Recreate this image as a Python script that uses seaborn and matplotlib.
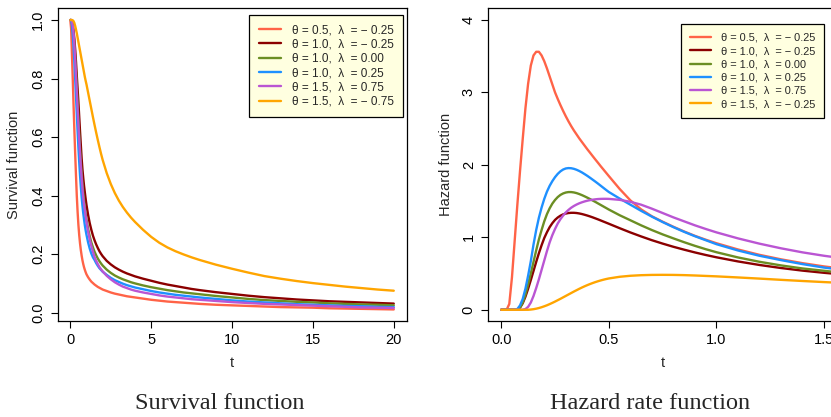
import matplotlib
matplotlib.use("Agg")
import matplotlib.pyplot as plt
from matplotlib.lines import Line2D
import pandas as pd
import seaborn as sns

# ---- survival function S(t) ----
t_surv = [0, 0.05, 0.1, 0.15, 0.2, 0.25, 0.3, 0.35, 0.4, 0.45, 0.5, 0.55, 0.6, 0.65, 0.7, 0.75,
          0.8, 0.85, 0.9, 0.95, 1.0, 1.1, 1.2, 1.3, 1.4, 1.5, 1.6, 1.7, 1.8, 1.9, 2.0, 2.25,
          2.5, 2.75, 3.0, 3.25, 3.5, 3.75, 4.0, 4.5, 5.0, 5.5, 6.0, 6.5, 7.0, 7.5, 8.0, 9,
          10, 11, 12, 13, 14, 15, 16, 17, 18, 19, 20]
surv_a = [1.0, 0.97, 0.885, 0.80, 0.71, 0.625, 0.545, 0.47, 0.40, 0.345, 0.30, 0.265, 0.237,
          0.214, 0.195, 0.179, 0.166, 0.155, 0.146, 0.138, 0.131, 0.121, 0.113, 0.106, 0.101,
          0.096, 0.092, 0.088, 0.085, 0.082, 0.079, 0.074, 0.069, 0.065, 0.062, 0.059, 0.056,
          0.054, 0.052, 0.048, 0.044, 0.041, 0.038, 0.036, 0.034, 0.032, 0.030, 0.027, 0.025,
          0.023, 0.021, 0.019, 0.018, 0.017, 0.015, 0.014, 0.013, 0.012, 0.011]
surv_b = [1.0, 1.0, 0.997, 0.985, 0.963, 0.935, 0.90, 0.858, 0.81, 0.765, 0.72, 0.67, 0.62,
          0.573, 0.527, 0.49, 0.46, 0.433, 0.41, 0.388, 0.368, 0.334, 0.306, 0.283, 0.263,
          0.247, 0.233, 0.221, 0.21, 0.201, 0.193, 0.177, 0.165, 0.155, 0.147, 0.140, 0.134,
          0.129, 0.124, 0.116, 0.109, 0.102, 0.096, 0.091, 0.086, 0.081, 0.077, 0.070, 0.064,
          0.058, 0.053, 0.049, 0.045, 0.042, 0.039, 0.037, 0.035, 0.033, 0.031]
surv_c = [1.0, 1.0, 0.993, 0.975, 0.948, 0.912, 0.868, 0.82, 0.77, 0.715, 0.66, 0.61, 0.56,
          0.513, 0.472, 0.438, 0.408, 0.382, 0.358, 0.337, 0.318, 0.287, 0.261, 0.240, 0.223,
          0.208, 0.196, 0.185, 0.176, 0.168, 0.161, 0.147, 0.136, 0.127, 0.120, 0.114, 0.109,
          0.104, 0.100, 0.093, 0.087, 0.082, 0.077, 0.073, 0.069, 0.066, 0.063, 0.057, 0.052,
          0.047, 0.043, 0.040, 0.037, 0.035, 0.032, 0.030, 0.028, 0.027, 0.025]
surv_d = [1.0, 0.997, 0.982, 0.952, 0.91, 0.858, 0.80, 0.74, 0.68, 0.62, 0.565, 0.515, 0.47,
          0.43, 0.395, 0.365, 0.34, 0.318, 0.298, 0.281, 0.266, 0.24, 0.219, 0.202, 0.189,
          0.18, 0.169, 0.16, 0.152, 0.146, 0.140, 0.129, 0.119, 0.111, 0.105, 0.099, 0.094,
          0.090, 0.086, 0.080, 0.074, 0.069, 0.065, 0.061, 0.058, 0.055, 0.052, 0.047, 0.042,
          0.038, 0.035, 0.032, 0.029, 0.027, 0.025, 0.023, 0.022, 0.020, 0.019]
surv_e = [1.0, 1.0, 0.996, 0.982, 0.955, 0.915, 0.865, 0.81, 0.753, 0.697, 0.643, 0.592, 0.545,
          0.501, 0.461, 0.425, 0.393, 0.37, 0.35, 0.33, 0.31, 0.277, 0.25, 0.228, 0.208,
          0.19, 0.177, 0.166, 0.156, 0.148, 0.141, 0.126, 0.114, 0.104, 0.096, 0.089, 0.084,
          0.079, 0.075, 0.069, 0.064, 0.059, 0.055, 0.052, 0.049, 0.046, 0.044, 0.040, 0.036,
          0.033, 0.030, 0.028, 0.026, 0.024, 0.022, 0.020, 0.018, 0.017, 0.016]
surv_f = [1.0, 1.0, 1.0, 0.999, 0.996, 0.99, 0.98, 0.968, 0.955, 0.94, 0.925, 0.91, 0.895,
          0.88, 0.865, 0.85, 0.835, 0.82, 0.805, 0.792, 0.78, 0.752, 0.724, 0.696, 0.668,
          0.641, 0.615, 0.59, 0.566, 0.543, 0.522, 0.477, 0.44, 0.409, 0.383, 0.361, 0.342,
          0.325, 0.31, 0.283, 0.259, 0.239, 0.223, 0.21, 0.199, 0.189, 0.18, 0.164, 0.15,
          0.137, 0.125, 0.116, 0.108, 0.101, 0.095, 0.089, 0.084, 0.079, 0.075]

surv_labels = ["θ = 0.5,  λ  = − 0.25", "θ = 1.0,  λ  = − 0.25", "θ = 1.0,  λ  = 0.00",
               "θ = 1.0,  λ  = 0.25", "θ = 1.5,  λ  = 0.75", "θ = 1.5,  λ  = − 0.75"]

# ---- hazard rate h(t) ----
t_haz = [0, 0.0125, 0.025, 0.0375, 0.05, 0.0625, 0.075, 0.0875, 0.1, 0.1125, 0.125, 0.1375,
         0.15, 0.1625, 0.175, 0.1875, 0.2, 0.2125, 0.225, 0.2375, 0.25, 0.2625, 0.275, 0.2875,
         0.3, 0.3125, 0.325, 0.3375, 0.35, 0.3625, 0.375, 0.3875, 0.4, 0.4125, 0.425, 0.4375,
         0.45, 0.4625, 0.475, 0.4875, 0.5, 0.55, 0.6, 0.65, 0.7, 0.75, 0.8, 0.85, 0.9, 0.95,
         1.0, 1.1, 1.2, 1.3, 1.4, 1.5, 1.6]
haz_a = [0, 0, 0, 0.08, 0.45, 0.95, 1.45, 1.92, 2.36, 2.78, 3.12, 3.37,
         3.51, 3.56, 3.56, 3.51, 3.43, 3.33, 3.22, 3.11, 3.00, 2.91, 2.825, 2.745,
         2.67, 2.60, 2.535, 2.475, 2.42, 2.365, 2.315, 2.265, 2.215, 2.168, 2.12, 2.073,
         2.027, 1.98, 1.935, 1.89, 1.845, 1.668, 1.51, 1.385, 1.29, 1.215, 1.145, 1.08, 1.02, 0.967,
         0.918, 0.832, 0.758, 0.696, 0.643, 0.598, 0.562]
haz_b = [0, 0, 0, 0, 0, 0, 0, 0.03, 0.09, 0.18, 0.29, 0.41,
         0.535, 0.66, 0.78, 0.89, 0.99, 1.07, 1.14, 1.195, 1.24, 1.273, 1.298, 1.316,
         1.328, 1.335, 1.338, 1.338, 1.335, 1.329, 1.321, 1.311, 1.30, 1.288, 1.275, 1.261,
         1.247, 1.232, 1.217, 1.202, 1.187, 1.126, 1.067, 1.012, 0.96, 0.913, 0.869, 0.829, 0.791, 0.756,
         0.724, 0.667, 0.618, 0.576, 0.54, 0.51, 0.483]
haz_c = [0, 0, 0, 0, 0, 0, 0, 0.03, 0.10, 0.21, 0.35, 0.50,
         0.66, 0.82, 0.97, 1.10, 1.22, 1.32, 1.40, 1.465, 1.515, 1.555, 1.585, 1.605,
         1.618, 1.624, 1.624, 1.619, 1.61, 1.597, 1.582, 1.565, 1.547, 1.528, 1.508, 1.488,
         1.467, 1.446, 1.425, 1.404, 1.383, 1.305, 1.235, 1.165, 1.10, 1.04, 0.985, 0.932, 0.882, 0.836,
         0.794, 0.722, 0.662, 0.612, 0.57, 0.538, 0.505]
haz_d = [0, 0, 0, 0, 0, 0, 0.01, 0.06, 0.15, 0.29, 0.47, 0.67,
         0.90, 1.10, 1.27, 1.41, 1.53, 1.63, 1.71, 1.775, 1.83, 1.875, 1.91, 1.935,
         1.95, 1.955, 1.953, 1.945, 1.932, 1.915, 1.895, 1.872, 1.848, 1.822, 1.795, 1.768,
         1.74, 1.711, 1.682, 1.653, 1.625, 1.535, 1.45, 1.365, 1.285, 1.21, 1.14, 1.075, 1.015, 0.96,
         0.905, 0.818, 0.745, 0.685, 0.63, 0.582, 0.545]
haz_e = [0, 0, 0, 0, 0, 0, 0, 0, 0, 0.01, 0.04, 0.10,
         0.19, 0.30, 0.42, 0.55, 0.68, 0.81, 0.93, 1.03, 1.115, 1.19, 1.25, 1.30,
         1.343, 1.378, 1.408, 1.432, 1.452, 1.469, 1.483, 1.495, 1.505, 1.513, 1.519, 1.524,
         1.528, 1.53, 1.531, 1.531, 1.53, 1.517, 1.49, 1.45, 1.395, 1.335, 1.275, 1.22, 1.165, 1.115,
         1.068, 0.985, 0.912, 0.848, 0.792, 0.745, 0.705]
haz_f = [0, 0, 0, 0, 0, 0, 0, 0, 0, 0, 0, 0.003,
         0.008, 0.015, 0.024, 0.035, 0.048, 0.062, 0.078, 0.095, 0.113, 0.132, 0.151, 0.171,
         0.191, 0.211, 0.231, 0.251, 0.27, 0.289, 0.307, 0.324, 0.34, 0.355, 0.369, 0.382,
         0.394, 0.405, 0.415, 0.424, 0.432, 0.455, 0.469, 0.477, 0.481, 0.482, 0.481, 0.478, 0.473, 0.467,
         0.461, 0.446, 0.43, 0.413, 0.397, 0.382, 0.368]

haz_labels = ["θ = 0.5,  λ  = − 0.25", "θ = 1.0,  λ  = − 0.25", "θ = 1.0,  λ  = 0.00",
              "θ = 1.0,  λ  = 0.25", "θ = 1.5,  λ  = 0.75", "θ = 1.5,  λ  = − 0.25"]

line_colors = ["tomato", "darkred", "olivedrab", "dodgerblue", "mediumorchid", "orange"]


def long_frame(t, series, labels):
    parts = [pd.DataFrame({"t": t, "value": s, "curve": lab}) for s, lab in zip(series, labels)]
    return pd.concat(parts, ignore_index=True)


surv_df = long_frame(t_surv, [surv_a, surv_b, surv_c, surv_d, surv_e, surv_f], surv_labels)
haz_df = long_frame(t_haz, [haz_a, haz_b, haz_c, haz_d, haz_e, haz_f], haz_labels)

sns.set_style("ticks")
plt.rcParams["font.family"] = ["Liberation Sans", "DejaVu Sans"]
plt.rcParams["axes.linewidth"] = 0.9
plt.rcParams["lines.solid_joinstyle"] = "round"

W, H = 831, 417
fig = plt.figure(figsize=(W / 100, H / 100), dpi=100)


def px_axes(left, top, right, bottom):
    return fig.add_axes([left / W, 1 - bottom / H, (right - left) / W, (bottom - top) / H])


ax1 = px_axes(57.7, 8.3, 406.7, 321)
ax2 = px_axes(488.3, 8.3, 837, 321)

LW = 1.7
for ax, df, labels in ((ax1, surv_df, surv_labels), (ax2, haz_df, haz_labels)):
    sns.lineplot(data=df, x="t", y="value", hue="curve", hue_order=labels,
                 palette=dict(zip(labels, line_colors)), estimator=None, sort=False,
                 linewidth=LW, legend=False, ax=ax)

ax1.set_xlim(-0.78, 20.8)
ax1.set_ylim(-0.0285, 1.04)
ax1.set_xticks([0, 5, 10, 15, 20])
ax1.set_yticks([0.0, 0.2, 0.4, 0.6, 0.8, 1.0])
ax1.set_yticklabels(["0.0", "0.2", "0.4", "0.6", "0.8", "1.0"])
ax1.set_ylabel("Survival function", fontsize=10.5, labelpad=7)

ax2.set_xlim(-0.06, 1.56)
ax2.set_ylim(-0.155, 4.16)
ax2.set_xticks([0.0, 0.5, 1.0, 1.5])
ax2.set_xticklabels(["0.0", "0.5", "1.0", "1.5"])
ax2.set_yticks([0, 1, 2, 3, 4])
ax2.set_ylabel("Hazard function", fontsize=10.5, labelpad=6)

for ax in (ax1, ax2):
    ax.set_xlabel("t", fontsize=10.5, labelpad=6)
    ax.tick_params(axis="both", direction="out", length=5, width=0.8, labelsize=10.5,
                   colors="black", pad=4)
    for lab in ax.get_yticklabels():
        lab.set_rotation(90)
        lab.set_va("center")
    for sp in ax.spines.values():
        sp.set_color("black")
        sp.set_linewidth(0.9)


def add_legend(ax, labels, anchor, fs, spacing):
    handles = [Line2D([0], [0], color=c, lw=LW) for c in line_colors]
    leg = ax.legend(handles, labels, loc="upper left", bbox_to_anchor=anchor,
                    borderaxespad=0, fancybox=False, facecolor="#FFFFE0", edgecolor="black",
                    framealpha=1, fontsize=fs, handlelength=1.9, handletextpad=0.9,
                    borderpad=0.8, labelspacing=spacing)
    leg.get_frame().set_linewidth(0.9)
    return leg


add_legend(ax1, surv_labels, ((249.3 - 57.7) / 349, (321 - 14.7) / 312.7), 8.5, 0.2)
add_legend(ax2, haz_labels, ((681 - 488.3) / 348.7, (321 - 24) / 312.7), 7.9, 0.3)

cap = dict(fontsize=17.5, family=["Liberation Serif", "DejaVu Serif"], ha="center", va="baseline")
fig.text(219.5 / W, (H - 409) / H, "Survival function", **cap)
fig.text(650.3 / W, (H - 409) / H, "Hazard rate function", **cap)

fig.savefig("out.png", dpi=100)
